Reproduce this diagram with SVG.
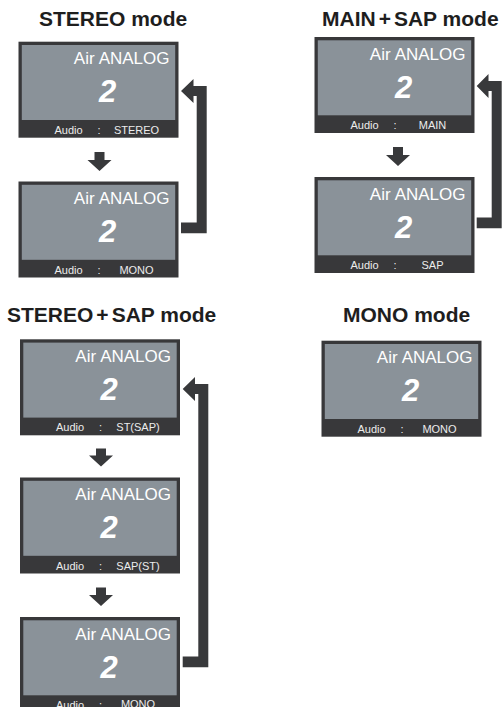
<svg xmlns="http://www.w3.org/2000/svg" width="502" height="707" viewBox="0 0 502 707">
<style>
.frame{fill:#38383a}
.screen{fill:#8a9299}
.title{font-family:"Liberation Sans",Arial,sans-serif;font-weight:bold;font-size:21px;fill:#1e1e1e}
.air{font-family:"Liberation Sans",Arial,sans-serif;font-size:17px;fill:#ffffff;text-anchor:end}
.num{font-family:"Liberation Sans",Arial,sans-serif;font-size:31px;font-weight:bold;font-style:italic;fill:#ffffff;text-anchor:middle}
.bar{font-family:"Liberation Sans",Arial,sans-serif;font-size:11px;fill:#ececec}
.val{text-anchor:middle}
.arrow{fill:#38393b}
</style>
<defs>
<g id="screen">
<rect class="frame" x="0" y="0" width="160" height="96"/>
<rect class="screen" x="3.3" y="3.3" width="153.4" height="75"/>
<text class="air" x="151" y="22.5">Air<tspan dx="4">ANALOG</tspan></text>
<text class="num" x="89" y="60.5">2</text>
<text class="bar" x="36" y="92">Audio</text>
<text class="bar" x="79" y="92">:</text>
</g>
</defs>

<g id="titles">
<text class="title" x="39" y="26">STEREO mode</text>
<text class="title" x="322" y="26">MAIN<tspan dx="3">+</tspan><tspan dx="3">SAP mode</tspan></text>
<text class="title" x="7" y="322">STEREO<tspan dx="3">+</tspan><tspan dx="3">SAP mode</tspan></text>
<text class="title" x="343" y="322">MONO mode</text>
</g>

<g id="stereo1" transform="translate(18.5,41.7)"><use href="#screen"/><text class="bar val" x="118" y="92">STEREO</text></g>
<g id="stereo2" transform="translate(18.5,181.5)"><use href="#screen"/><text class="bar val" x="118" y="92">MONO</text></g>

<g id="mainsap1" transform="translate(314.5,37)"><use href="#screen"/><text class="bar val" x="118" y="92">MAIN</text></g>
<g id="mainsap2" transform="translate(314.5,177)"><use href="#screen"/><text class="bar val" x="118" y="92">SAP</text></g>

<g id="stsap1" transform="translate(20,339.3)"><use href="#screen"/><text class="bar val" x="118" y="92">ST(SAP)</text></g>
<g id="stsap2" transform="translate(20,477.5)"><use href="#screen"/><text class="bar val" x="118" y="92">SAP(ST)</text></g>
<g id="stsap3" transform="translate(20,617)"><use href="#screen"/><text class="bar val" x="118" y="91">MONO</text></g>

<g id="mono1" transform="translate(321.5,340.7)"><use href="#screen"/><text class="bar val" x="118" y="92">MONO</text></g>

<g id="connectors" class="arrow">
<polygon points="94.5,152 104.5,152 104.5,160 111.5,160 99.5,171 87.5,160 94.5,160"/>
<polygon points="393,147 403,147 403,155 410,155 398,166 386,155 393,155"/>
<polygon points="96,448.5 106,448.5 106,455.5 113,455.5 101,466.5 89,455.5 96,455.5"/>
<polygon points="96,587.5 106,587.5 106,595 113,595 101,606 89,595 96,595"/>
<polygon points="181,91 193.5,79 193.5,86 206.7,86 206.7,233.3 181,233.3 181,222.5 196.7,222.5 196.7,96 193.5,96 193.5,103"/>
<polygon points="476.7,86 488.5,74 488.5,81 501.7,81 501.7,228.3 476.7,228.3 476.7,217.5 491.7,217.5 491.7,91 488.5,91 488.5,98"/>
<polygon points="182.7,389 195,377 195,384 208.3,384 208.3,667.3 182.7,667.3 182.7,656.5 198.3,656.5 198.3,394 195,394 195,401"/>
</g>
</svg>
